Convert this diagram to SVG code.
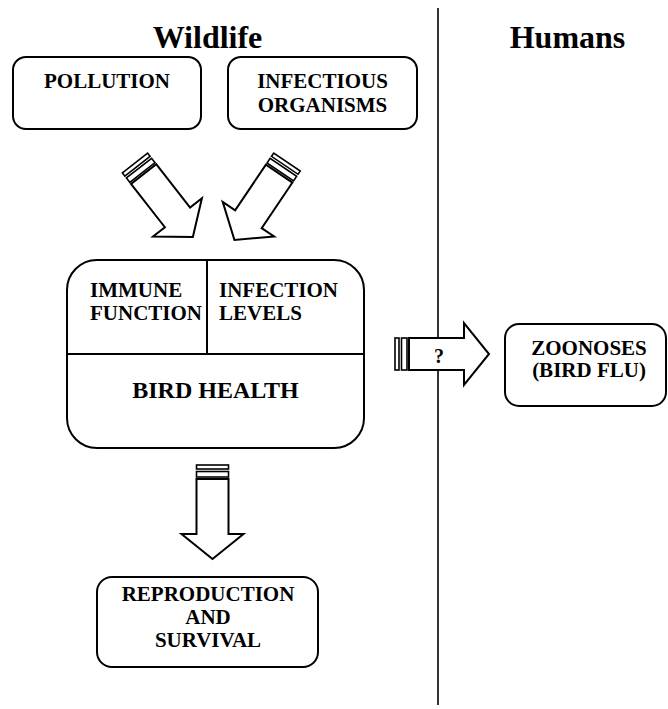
<svg xmlns="http://www.w3.org/2000/svg" width="668" height="709" viewBox="0 0 668 709">
<style>
.t{font-family:"Liberation Serif","Times New Roman",serif;font-weight:bold;fill:#000}
.title{font-size:32px;text-anchor:middle}
.lbl{font-size:21px}
.c{text-anchor:middle}
.box{fill:#fff;stroke:#000;stroke-width:2}
.ar{fill:#fff;stroke:#000;stroke-width:2;stroke-linejoin:miter}
.band{fill:#fff;stroke:#000;stroke-width:1.6}
</style>
<defs>
<g id="arrow">
<rect class="band" x="0" y="-16" width="4" height="32"/>
<rect class="band" x="6.5" y="-16" width="5.5" height="32"/>
<path class="ar" d="M14,-16 H69 V-31 L94,0 L69,31 V16 H14 Z"/>
</g>
</defs>
<rect width="668" height="709" fill="#fff"/>
<g id="headers">
<text class="t title" x="207.5" y="48">Wildlife</text>
<text class="t title" x="567.5" y="48">Humans</text>
</g>
<line id="divider" x1="438" y1="8" x2="438" y2="705" stroke="#000" stroke-width="1.6"/>
<g id="pollution">
<rect class="box" x="13" y="57" width="188" height="72" rx="13"/>
<text class="t lbl c" x="107" y="88">POLLUTION</text>
</g>
<g id="infectious">
<rect class="box" x="228" y="57" width="189" height="72" rx="13"/>
<text class="t lbl c" x="322.5" y="88">INFECTIOUS</text>
<text class="t lbl c" x="322.5" y="112">ORGANISMS</text>
</g>
<g id="birdhealth">
<rect class="box" x="67" y="260" width="297" height="188" rx="30"/>
<line x1="67" y1="354" x2="364" y2="354" stroke="#000" stroke-width="2"/>
<line x1="207" y1="260" x2="207" y2="354" stroke="#000" stroke-width="2"/>
<text class="t lbl" x="90" y="297">IMMUNE</text>
<text class="t lbl" x="90" y="320">FUNCTION</text>
<text class="t lbl" x="219" y="297">INFECTION</text>
<text class="t lbl" x="219" y="320">LEVELS</text>
<text class="t c" x="215.5" y="398" font-size="24">BIRD HEALTH</text>
</g>
<g id="zoonoses">
<rect class="box" x="505" y="324" width="161" height="82" rx="14"/>
<text class="t lbl c" x="589" y="355">ZOONOSES</text>
<text class="t lbl c" x="589" y="377">(BIRD FLU)</text>
</g>
<g id="reproduction">
<rect class="box" x="97" y="577" width="221" height="90" rx="15"/>
<text class="t lbl c" x="208" y="601">REPRODUCTION</text>
<text class="t lbl c" x="208" y="624">AND</text>
<text class="t lbl c" x="208" y="647">SURVIVAL</text>
</g>
<g id="connectors">
<use href="#arrow" transform="translate(135,163) rotate(52)"/>
<use href="#arrow" transform="translate(287,162) rotate(124)"/>
<use href="#arrow" transform="translate(212.5,465) rotate(90)"/>
<use href="#arrow" transform="translate(395,354)"/>
<text class="t c" x="439" y="363" font-size="20">?</text>
</g>
</svg>
